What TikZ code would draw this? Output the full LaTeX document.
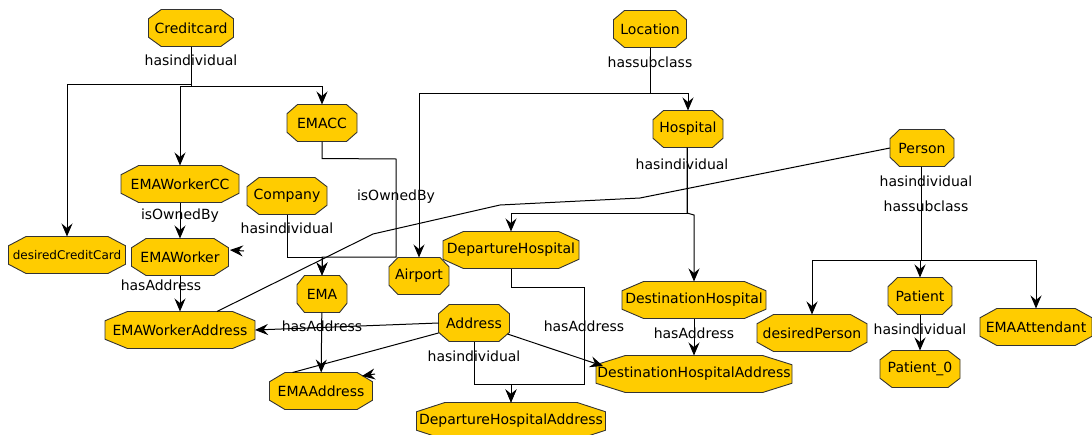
\documentclass[tikz,border=0pt]{standalone}
\usepackage{fontspec}
\setmainfont{DejaVu Sans}
\usetikzlibrary{arrows.meta,calc,backgrounds}
\definecolor{octfill}{HTML}{FFCC00}
\definecolor{octline}{HTML}{333333}
\begin{document}
\begin{tikzpicture}[x=1pt,y=-1pt, font=\fontsize{14}{16}\selectfont,
  oct/.style={rectangle, inner sep=0pt, outer sep=0pt, minimum height=37pt},
  lbl/.style={inner sep=0pt},
  arr/.style={draw=black, line width=1pt, -{Stealth[length=13pt,width=11pt,inset=4.5pt]}},
  ln/.style={draw=black, line width=1pt},
  octpath/.style={fill=octfill, draw=octline, line width=0.9pt}]
\useasboundingbox (0,0) rectangle (1092,434);

% nodes
\node[oct, minimum width=85pt] (creditcard) at (191,28) {Creditcard};
\node[oct, minimum width=73pt] (location) at (650,29) {Location};
\node[oct, minimum width=70pt] (emacc) at (322,123) {EMACC};
\node[oct, minimum width=70pt] (hospital) at (688,129) {Hospital};
\node[oct, minimum width=64pt] (person) at (922,148) {Person};
\node[oct, minimum width=118pt] (emaworkercc) at (180,184) {EMAWorkerCC};
\node[oct, minimum width=80pt] (company) at (287,196) {Company};
\node[oct, minimum width=117pt, font=\fontsize{12}{14}\selectfont] (desiredcc) at (67,255) {desiredCreditCard};
\node[oct, minimum width=97pt] (emaworker) at (180,257) {EMAWorker};
\node[oct, minimum width=50pt] (ema) at (322,294) {EMA};
\node[oct, minimum width=60pt] (airport) at (419,276) {Airport};
\node[oct, minimum width=136pt] (dephosp) at (511,250) {DepartureHospital};
\node[oct, minimum width=144pt] (desthosp) at (694,300) {DestinationHospital};
\node[oct, minimum width=110pt] (desiredperson) at (812,333) {desiredPerson};
\node[oct, minimum width=64pt] (patient) at (920,296) {Patient};
\node[oct, minimum width=112pt] (emaattendant) at (1036,327) {EMAAttendant};
\node[oct, minimum width=80pt] (patient0) at (920,369) {Patient\_0};
\node[oct, minimum width=71pt] (address) at (474,323) {Address};
\node[oct, minimum width=150pt] (emaworkeraddress) at (180,330) {EMAWorkerAddress};
\node[oct, minimum width=103pt] (emaaddress) at (321,391) {EMAAddress};
\node[oct, minimum width=196pt] (desthospaddr) at (694,374) {DestinationHospitalAddress};
\node[oct, minimum width=189pt] (dephospaddr) at (511,421) {DepartureHospitalAddress};

\begin{scope}[on background layer]
\foreach \o in {creditcard,location,emacc,hospital,person,emaworkercc,company,desiredcc,emaworker,ema,airport,dephosp,desthosp,desiredperson,patient,emaattendant,patient0,address,emaworkeraddress,emaaddress,desthospaddr,dephospaddr}{
  \path[octpath] let \p1=(\o.south west), \p2=(\o.north east),
     \n1={0.15*(\x2-\x1)}, \n2={0.25*(\y2-\y1)} in
     (\x1,\y1+\n2) -- (\x1,\y2-\n2) -- (\x1+\n1,\y2) -- (\x2-\n1,\y2)
     -- (\x2,\y2-\n2) -- (\x2,\y1+\n2) -- (\x2-\n1,\y1) -- (\x1+\n1,\y1) -- cycle;
}
\end{scope}

% Creditcard edges
\draw[arr] (creditcard.south) -- ++(0,38) -| (desiredcc.north);
\draw[arr] (creditcard.south) -- ++(0,40) -| (emaworkercc.north);
\draw[arr] (creditcard.south) -- ++(0,40) -| (emacc.north);
\node[lbl] (l1) at (191,60) {hasindividual};

\draw[arr] (emaworkercc) -- (emaworker);
\node[lbl] (l2) at (180,216) {isOwnedBy};

\draw[arr] (emacc.south) -- ++(0,17) -- (396,159) -- (396,257) -| (ema.north);
\node[lbl] (l3) at (396,197) {isOwnedBy};

\draw[arr] (company.south) -- (287,257) -| (ema.north);
\node[lbl] (l4) at (287,228) {hasindividual};

\draw[arr] (emaworker) -- (emaworkeraddress);
\node[lbl] (l5) at (161,285) {hasAddress};

\draw[ln] (person.west) -- (640,198) -- (500,205) -- (373,234) -- ($(emaworkeraddress.north)+(37,0)$);
\coordinate (tipA) at (230,250);
\draw[arr] (244,251) -- (tipA);

\draw[arr] (ema) -- (emaaddress);
\node[lbl] (l6) at (322,326) {hasAddress};

\draw[arr] (address.west) -- (emaworkeraddress.east);
\draw[ln] ($(address.west)+(0,10)$) -- ($(emaaddress.north west)+(23,0)$);
\coordinate (tipB) at (362,376);
\draw[arr] (375,374) -- (tipB);

\draw[arr] ($(address.east)+(-2,11)$) -- ($(desthospaddr.west)+(7,-8)$);

\draw[arr] (address.south) -- (474,384) -| (dephospaddr.north);
\node[lbl] (l7) at (474,356) {hasindividual};

\draw[arr] (dephosp.south) -- (511,287) -- (584,287) -- (584,384) -| (dephospaddr.north);
\node[lbl] (l8) at (584,326) {hasAddress};

% Location
\draw[arr] (location.south) -- (650,93) -| (hospital.north);
\draw[arr] (location.south) -- (650,93) -| (airport.north);
\node[lbl] (l9) at (650,62) {hassubclass};

% Hospital
\draw[arr] ($(hospital.south)+(-1,0)$) -- (687,213) -| (dephosp.north);
\draw[arr] ($(hospital.south)+(-1,0)$) -- (687,213) -- (694,215) -- (desthosp.north);
\node[lbl] (l10) at (682,164) {hasindividual};

\draw[arr] (desthosp) -- (desthospaddr);
\node[lbl] (l11) at (694,333) {hasAddress};

% Person
\draw[arr] ($(person.south)+(-1,0)$) -- (921,260) -| (desiredperson.north);
\draw[arr] ($(person.south)+(-1,0)$) -- (921,260) -| (patient.north);
\draw[arr] ($(person.south)+(-1,0)$) -- (921,260) -| (emaattendant.north);
\node[lbl] (l12) at (926,181) {hasindividual};
\node[lbl] (l13) at (926,206) {hassubclass};

\draw[arr] (patient) -- (patient0);
\node[lbl] (l14) at (920,329) {hasindividual};
\end{tikzpicture}
\end{document}
